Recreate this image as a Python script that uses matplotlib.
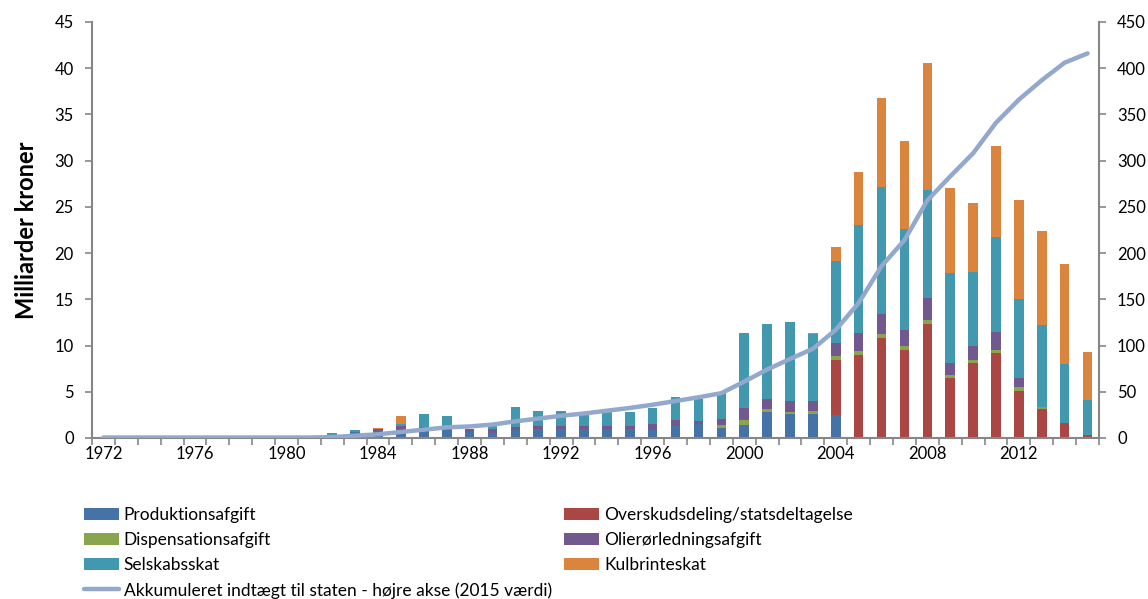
import matplotlib.pyplot as plt
import numpy as np
from matplotlib.ticker import MultipleLocator, FixedLocator

plt.rcParams['font.family'] = ['Lato', 'DejaVu Sans']

years = list(range(1972, 2016))
pad = [0.0] * 10  # 1972-1981: ingen indtægter

produktion = pad + [0.1, 0.6, 0.75, 0.76, 1.0, 1.15, 0.7, 0.5, 0.83, 0.94, 0.94, 0.94, 0.94,
                    0.94, 0.87, 1.26, 1.48, 1.12, 1.44, 2.78, 2.6, 2.6, 2.5,
                    0, 0, 0, 0, 0, 0, 0, 0, 0, 0, 0]
overskud = pad + [0] * 22 + [5.95, 9.0, 10.85, 9.55, 12.35, 6.5, 8.1, 9.15, 5.1, 3.1, 1.6, 0.3]
dispensation = pad + [0, 0, 0, 0.1, 0, 0, 0, 0, 0, 0, 0, 0, 0, 0, 0, 0, 0, 0.28, 0.51, 0.36, 0.25, 0.28,
                      0.43, 0.45, 0.45, 0.35, 0.45, 0.35, 0.3, 0.35, 0.4, 0.3, 0.05, 0]
olierør = pad + [0, 0, 0.2, 0.47, 0.22, 0, 0.25, 0.43, 0.4, 0.4, 0.4, 0.4, 0.4, 0.4, 0.6, 0.65,
                 0.4, 0.62, 1.33, 1.11, 1.19, 1.16, 1.35, 1.95, 2.1, 1.75, 2.3, 1.3, 1.6, 1.95,
                 0.95, 0, 0, 0]
selskab = pad + [0.4, 0.25, 0, 0.18, 1.37, 1.23, 0.05, 0.72, 2.13, 1.59, 1.59, 1.35, 1.7, 1.5,
                 1.8, 2.56, 2.34, 2.81, 8.12, 8.05, 8.46, 7.26, 8.9, 11.6, 13.7, 10.95, 11.7,
                 9.75, 8.0, 10.25, 8.55, 8.8, 6.4, 3.78]
kulbrinte = pad + [0, 0, 0.15, 0.9] + [0] * 16 + [0.1, 0.1, 1.5, 5.8, 9.7, 9.5, 13.8, 9.1, 7.4,
                                               9.9, 10.7, 10.15, 10.8, 5.2]
akkumuleret = [0.5] * 10 + [1, 2.5, 4, 6.5, 9, 11.5, 12.5, 14.5, 18, 21, 24, 26.5, 29.5, 32.5,
                            36, 40, 44, 48.5, 61, 74, 85.5, 96.5, 117, 146, 186, 214, 257, 283,
                            308, 341, 366, 387, 406, 416]

serier = [
    ('Produktionsafgift', produktion, '#4572A7'),
    ('Overskudsdeling/statsdeltagelse', overskud, '#AA4643'),
    ('Dispensationsafgift', dispensation, '#89A54E'),
    ('Olierørledningsafgift', olierør, '#71588F'),
    ('Selskabsskat', selskab, '#4198AF'),
    ('Kulbrinteskat', kulbrinte, '#DB843D'),
]

fig = plt.figure(figsize=(11.48, 5.99), dpi=100)
ax = fig.add_axes([0.0801, 0.2688, 0.8772, 0.6945])
x = np.arange(len(years))

bund = np.zeros(len(years))
bars = {}
for navn, vals, farve in serier:
    vals = np.array(vals, dtype=float)
    bars[navn] = ax.bar(x, vals, width=0.42, bottom=bund, color=farve, label=navn, zorder=2)
    bund += vals

ax.set_xlim(-0.5, len(years) - 0.5)
ax.set_ylim(0, 45)
ax.yaxis.set_major_locator(MultipleLocator(5))
ax.set_xticks(x[::4])
ax.set_xticklabels([str(y) for y in years[::4]])
ax.xaxis.set_minor_locator(FixedLocator(np.arange(-0.5, len(years), 1)))
ax.tick_params(axis='x', which='major', length=0, pad=6)
ax.tick_params(axis='x', which='minor', length=5, width=1.2, color='#868686', direction='out')
ax.tick_params(axis='y', length=5, width=1.2, color='#868686', direction='out', pad=8)
ax.tick_params(labelsize=12)
for s in ['top', 'right']:
    ax.spines[s].set_visible(False)
for s in ['left', 'bottom']:
    ax.spines[s].set_color('#868686')
    ax.spines[s].set_linewidth(1.5)
ax.set_ylabel('Milliarder kroner', fontsize=17, fontweight='bold', labelpad=12)

ax2 = ax.twinx()
linje, = ax2.plot(x, akkumuleret, color='#92A8CD', lw=3.2, solid_capstyle='round',
                  label='Akkumuleret indtægt til staten - højre akse (2015 værdi)')
ax2.set_ylim(0, 450)
ax2.yaxis.set_major_locator(MultipleLocator(50))
ax2.tick_params(axis='y', length=5, width=1.2, color='#868686', direction='out', pad=8,
                labelsize=12)
for s in ['top', 'left', 'bottom']:
    ax2.spines[s].set_visible(False)
ax2.spines['right'].set_color('#868686')
ax2.spines['right'].set_linewidth(1.5)

navne = [n for n, _, _ in serier]
handles = [bars[navne[0]], bars[navne[2]], bars[navne[4]], linje,
           bars[navne[1]], bars[navne[3]], bars[navne[5]]]
labels = [navne[0], navne[2], navne[4], linje.get_label(), navne[1], navne[3], navne[5]]
fig.legend(handles, labels, ncol=2, loc='upper left', bbox_to_anchor=(0.0655, 0.168),
           frameon=False, fontsize=12.5, handlelength=2.0, handleheight=0.75,
           handletextpad=0.3, labelspacing=0.52, columnspacing=0.7, borderpad=0)

fig.savefig('out.png', dpi=100)
